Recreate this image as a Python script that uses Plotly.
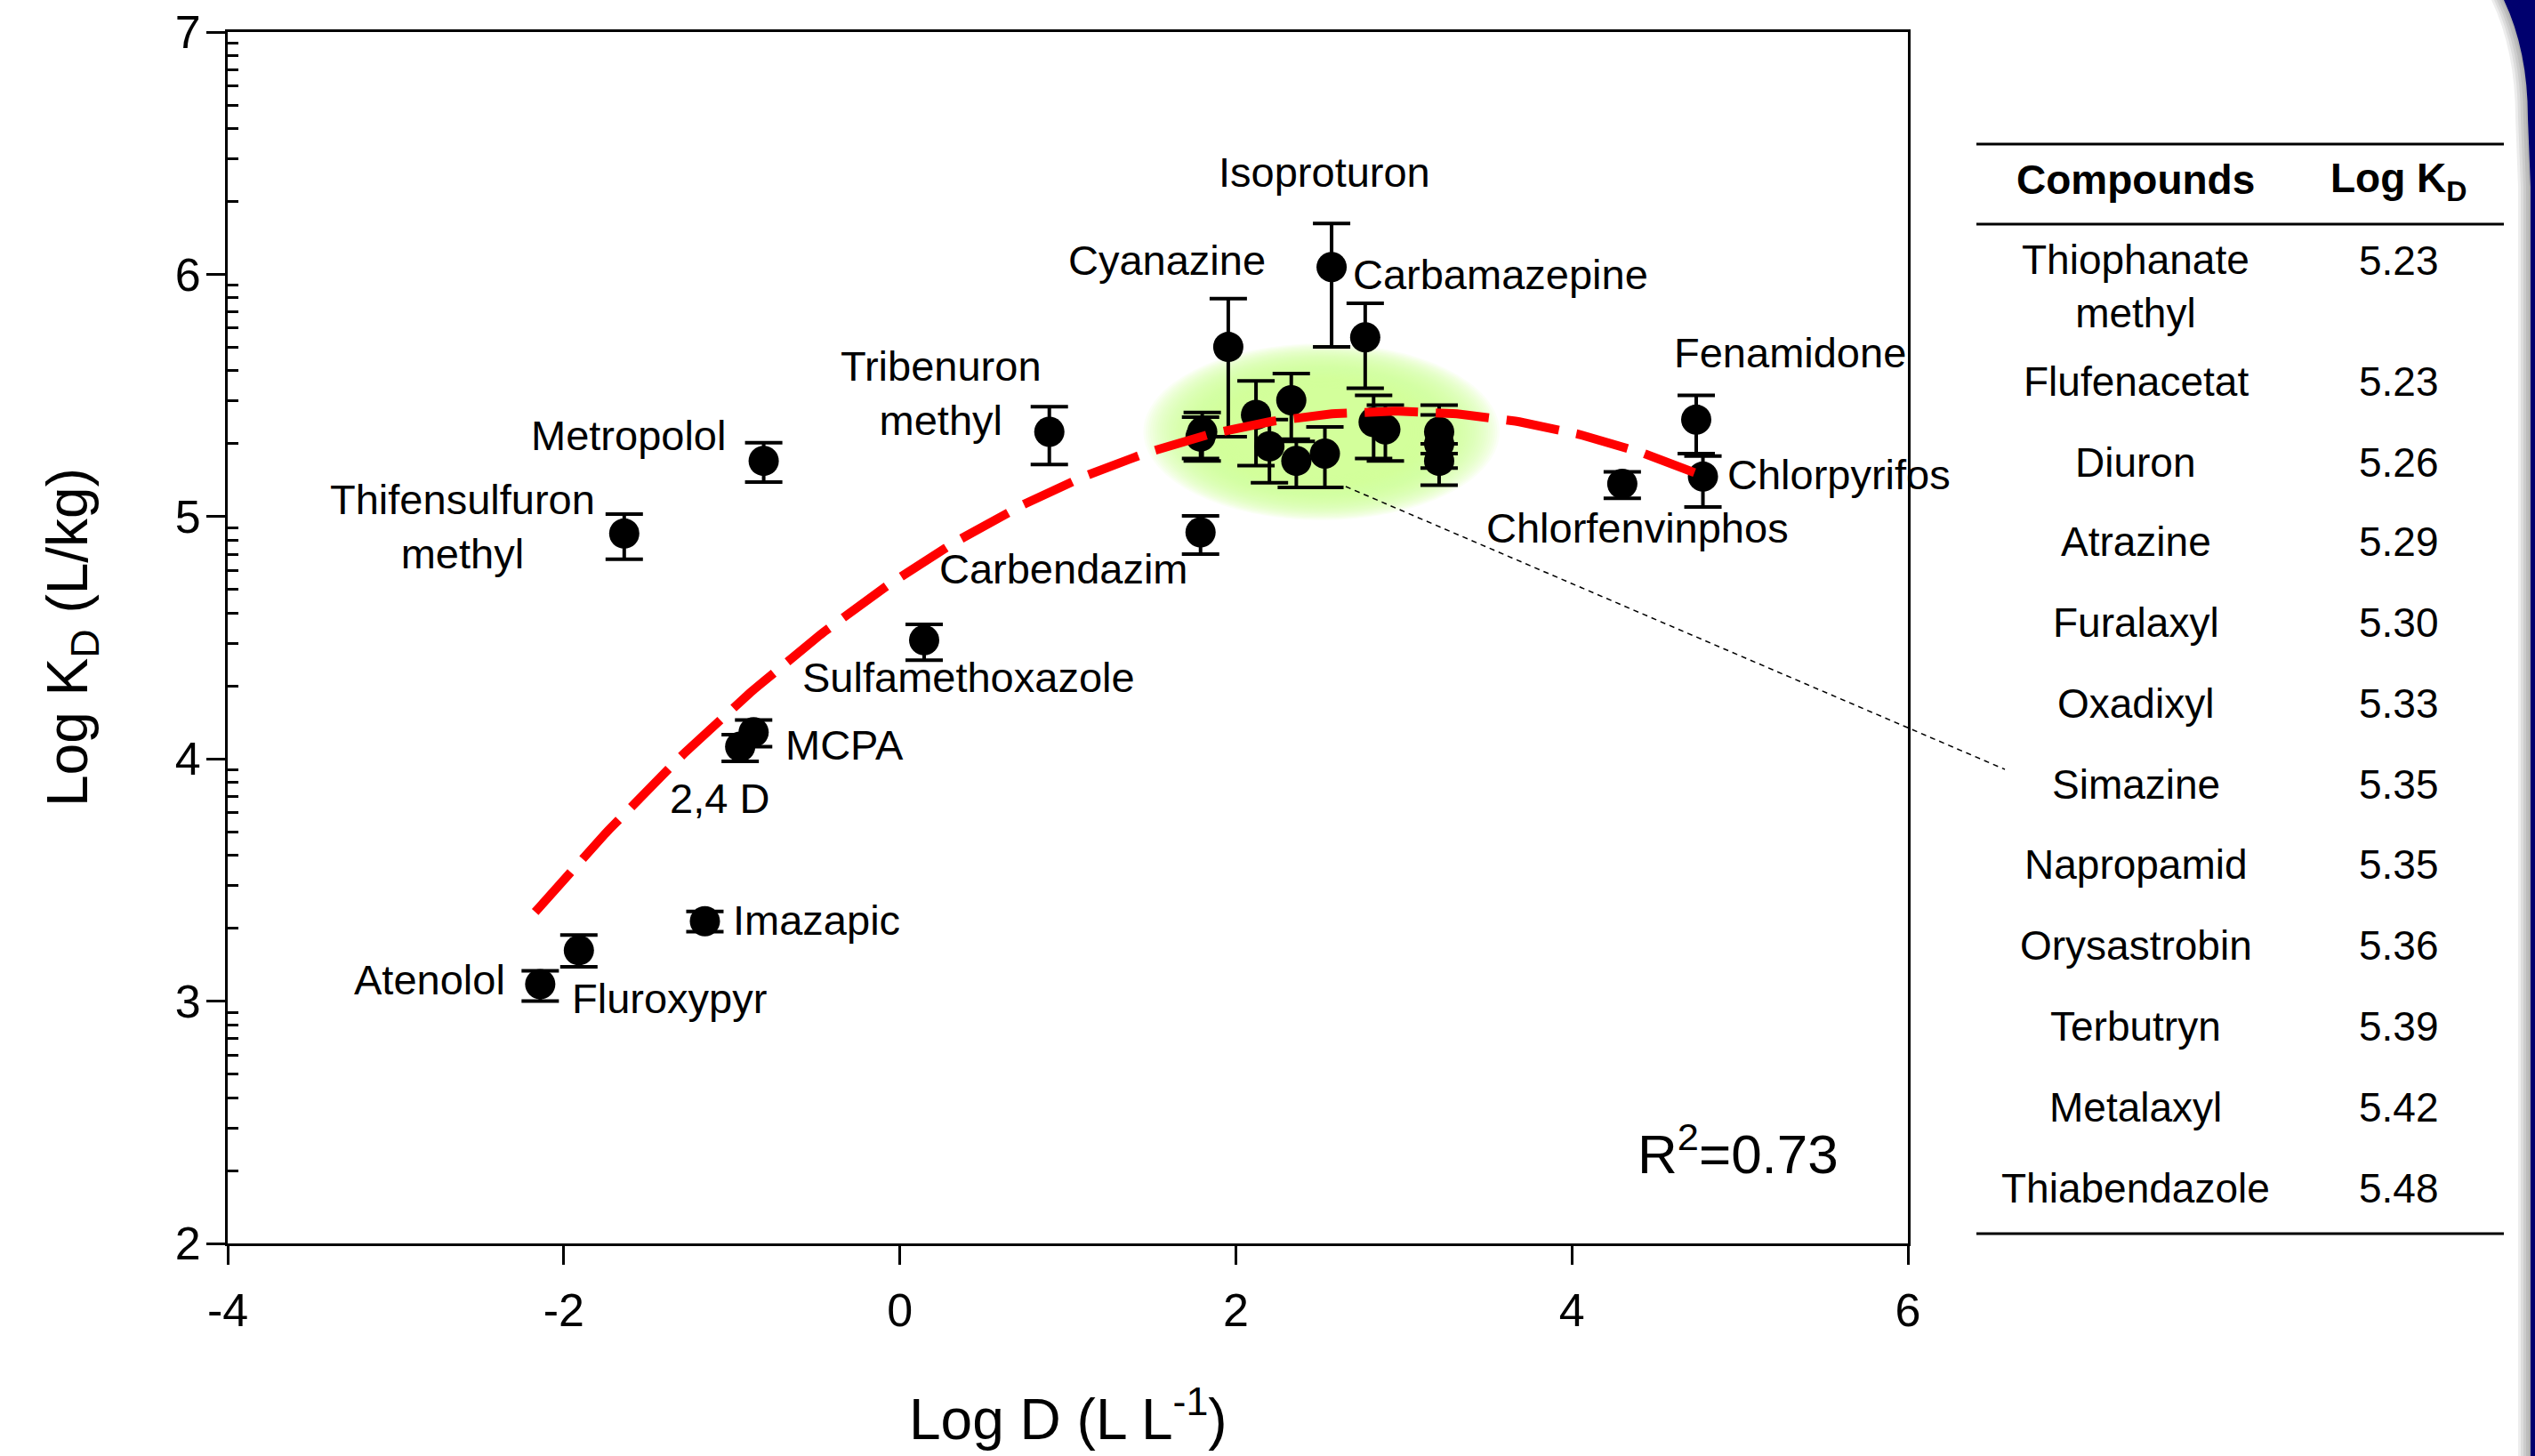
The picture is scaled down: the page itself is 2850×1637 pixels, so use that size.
import math
import numpy as np
import plotly.graph_objects as go

# ---------------- data ----------------
# labelled compounds
lab_names = ["Atenolol", "Fluroxypyr", "Imazapic", "2,4 D", "MCPA",
             "Thifensulfuron methyl", "Metropolol", "Sulfamethoxazole",
             "Tribenuron methyl", "Carbendazim", "Cyanazine", "Isoproturon",
             "Carbamazepine", "Fenamidone", "Chlorfenvinphos", "Chlorpyrifos"]
lab_logD = [-2.14, -1.91, -1.16, -0.95, -0.87, -1.64, -0.81, 0.145,
            0.89, 1.79, 1.955, 2.57, 2.77, 4.74, 4.30, 4.78]
lab_logKd = [3.07, 3.21, 3.33, 4.05, 4.11, 4.93, 5.23, 4.49,
             5.35, 4.935, 5.70, 6.03, 5.74, 5.40, 5.135, 5.165]
lab_err_plus = [0.055, 0.063, 0.04, 0.05, 0.05, 0.08, 0.075, 0.065,
                0.104, 0.068, 0.20, 0.18, 0.14, 0.10, 0.05, 0.085]
lab_err_minus = [0.07, 0.068, 0.043, 0.06, 0.06, 0.106, 0.088, 0.083,
                 0.135, 0.09, 0.37, 0.33, 0.21, 0.14, 0.06, 0.125]

# compounds of the table (clustered points)
tab_names = ["Thiophanate<br>methyl", "Flufenacetat", "Diuron", "Atrazine",
             "Furalaxyl", "Oxadixyl", "Simazine", "Napropamid",
             "Orysastrobin", "Terbutryn", "Metalaxyl", "Thiabendazole"]
tab_logKd = [5.23, 5.23, 5.26, 5.29, 5.30, 5.33, 5.35, 5.35, 5.36, 5.39, 5.42, 5.48]
tab_logKd_text = ["5.23", "5.23", "5.26", "5.29", "5.30", "5.33", "5.35",
                  "5.35", "5.36", "5.39", "5.42", "5.48"]
tab_logD = [3.21, 2.36, 2.53, 2.20, 3.21, 1.79, 1.80, 3.21, 2.89, 2.82, 2.12, 2.33]
tab_err_plus = [0.07, 0.08, 0.11, 0.11, 0.12, 0.08, 0.08, 0.11, 0.10, 0.11, 0.14, 0.11]
tab_err_minus = [0.10, 0.11, 0.14, 0.15, 0.10, 0.09, 0.12, 0.09, 0.13, 0.15, 0.21, 0.16]

# quadratic fit: logKd = a + b*logD + c*logD^2
fit_a, fit_b, fit_c = 4.750, 0.4654, -0.07907
fit_x_start, fit_x_end = -2.17, 4.78
r2_text = "R<sup>2</sup>=0.73"

x_ticks = [-4, -2, 0, 2, 4, 6]
y_ticks = [2, 3, 4, 5, 6, 7]

# ---------------- layout geometry ----------------
W, H = 2850, 1637
ML, MR, MT, MB = 256, 705, 36, 239
PW, PH = W - ML - MR, H - MT - MB
XR = (-4, 6)
YR = (2, 7)
FONT = "Liberation Sans, Arial, sans-serif"


def pxx(xp):
    return (xp - ML) / PW


def pxy(yp):
    return (H - MB - yp) / PH


def dx2p(x):
    return (x - XR[0]) / (XR[1] - XR[0])


def dy2p(y):
    return (y - YR[0]) / (YR[1] - YR[0])


fig = go.Figure()

# green glow behind the cluster (stack of soft ellipses)
glow_cx, glow_cy = 2.51, 5.35
glow_rx, glow_ry = 1.06, 0.365
shapes = []
n_glow = 40
for i in range(n_glow):
    s = 1.0 - 0.5 * i / (n_glow - 1)
    shapes.append(dict(type="circle", xref="x", yref="y", layer="below",
                       x0=glow_cx - glow_rx * s, x1=glow_cx + glow_rx * s,
                       y0=glow_cy - glow_ry * s, y1=glow_cy + glow_ry * s,
                       fillcolor="rgba(206,255,152,0.09)", line=dict(width=0)))

# data points
fig.add_trace(go.Scatter(
    x=lab_logD, y=lab_logKd, mode="markers", text=lab_names,
    marker=dict(color="black", size=34, line=dict(width=0)),
    error_y=dict(type="data", symmetric=False, array=lab_err_plus,
                 arrayminus=lab_err_minus, color="black", thickness=4, width=21),
    showlegend=False))
fig.add_trace(go.Scatter(
    x=tab_logD, y=tab_logKd, mode="markers", text=tab_names,
    marker=dict(color="black", size=34, line=dict(width=0)),
    error_y=dict(type="data", symmetric=False, array=tab_err_plus,
                 arrayminus=tab_err_minus, color="black", thickness=4, width=21),
    showlegend=False))

# fit curve
fx = np.linspace(fit_x_start, fit_x_end, 300)
fy = fit_a + fit_b * fx + fit_c * fx ** 2
fig.add_trace(go.Scatter(x=fx, y=fy, mode="lines",
                         line=dict(color="#ff0000", width=10, dash="60px,20px"),
                         showlegend=False, hoverinfo="skip"))

# dashed leader line from cluster to the table
shapes.append(dict(type="line", xref="paper", yref="paper",
                   x0=dx2p(2.654), y0=dy2p(5.124), x1=pxx(2254), y1=pxy(865),
                   line=dict(color="black", width=1.5, dash="6px,5px")))

# table rules
for yp in (162, 252, 1387):
    shapes.append(dict(type="line", xref="paper", yref="paper",
                       x0=pxx(2222), x1=pxx(2815), y0=pxy(yp), y1=pxy(yp),
                       line=dict(color="black", width=3)))

# navy slide border on the right, with soft shadow
def border_path(off):
    pts = [(2815 - off, 0), (2833 - off, 67), (2842 - off, 133), (2845 - off, 210),
           (2845 - off, H), (2850, H), (2850, 0)]
    p = "M {:.5f},{:.5f}".format(pxx(pts[0][0]), pxy(pts[0][1]))
    p += " Q {:.5f},{:.5f} {:.5f},{:.5f}".format(pxx(pts[2][0]), pxy(pts[1][1] - 10),
                                                  pxx(pts[2][0]), pxy(pts[2][1]))
    for (a, b) in pts[3:]:
        p += " L {:.5f},{:.5f}".format(pxx(a), pxy(b))
    return p + " Z"


for off in (14, 11, 8, 5, 2):
    shapes.append(dict(type="path", xref="paper", yref="paper", path=border_path(off),
                       fillcolor="rgba(0,0,0,0.07)", line=dict(width=0), layer="above"))
shapes.append(dict(type="path", xref="paper", yref="paper", path=border_path(0),
                   fillcolor="#00006e", line=dict(width=0), layer="above"))

# ---------------- annotations ----------------
ann = []
label_pos = {
    "Isoproturon": (2.527, 6.42),
    "Cyanazine": (1.59, 6.057),
    "Carbamazepine": (3.575, 5.998),
    "Tribenuron<br>methyl": (0.246, 5.51),
    "Metropolol": (-1.613, 5.337),
    "Thifensulfuron<br>methyl": (-2.602, 4.958),
    "Fenamidone": (5.296, 5.678),
    "Chlorpyrifos": (5.592, 5.175),
    "Chlorfenvinphos": (4.391, 4.952),
    "Carbendazim": (0.976, 4.783),
    "Sulfamethoxazole": (0.41, 4.335),
    "MCPA": (-0.331, 4.056),
    "2,4 D": (-1.073, 3.836),
    "Imazapic": (-0.495, 3.336),
    "Atenolol": (-2.798, 3.09),
    "Fluroxypyr": (-1.374, 3.01),
}
for txt, (lx, ly) in label_pos.items():
    ann.append(dict(text=txt, x=lx, y=ly, xref="x", yref="y", showarrow=False,
                    xanchor="center", yanchor="middle",
                    font=dict(family=FONT, size=47, color="black")))

ann.append(dict(text=r2_text, x=4.989, y=2.385, xref="x", yref="y", showarrow=False,
                xanchor="center", yanchor="middle",
                font=dict(family=FONT, size=62, color="black")))

# axis titles
ann.append(dict(text="Log D (L L<sup>-1</sup>)", x=0.5, y=pxy(1591), xref="paper",
                yref="paper", showarrow=False, xanchor="center", yanchor="middle",
                font=dict(family=FONT, size=64, color="black")))
ann.append(dict(text="Log K<sub>D</sub> (L/kg)", x=pxx(80), y=0.5, xref="paper",
                yref="paper", showarrow=False, xanchor="center", yanchor="middle",
                textangle=-90, font=dict(family=FONT, size=64, color="black")))

# table text
col1, col2 = pxx(2401), pxx(2697)
ann.append(dict(text="<b>Compounds</b>", x=col1, y=pxy(202), xref="paper", yref="paper",
                showarrow=False, xanchor="center", yanchor="middle",
                font=dict(family=FONT, size=46, color="black")))
ann.append(dict(text="<b>Log K<sub>D</sub></b>", x=col2, y=pxy(204), xref="paper",
                yref="paper", showarrow=False, xanchor="center", yanchor="middle",
                font=dict(family=FONT, size=46, color="black")))
row_y = [293, 429, 520, 609, 700, 791, 882, 972, 1063, 1154, 1245, 1336]
for name, val, yp in zip(tab_names, tab_logKd_text, row_y):
    if "<br>" in name:
        ann.append(dict(text=name, x=col1, y=pxy(yp - 29), xref="paper", yref="paper",
                        showarrow=False, xanchor="center", yanchor="top",
                        font=dict(family=FONT, size=46, color="black")))
    else:
        ann.append(dict(text=name, x=col1, y=pxy(yp), xref="paper", yref="paper",
                        showarrow=False, xanchor="center", yanchor="middle",
                        font=dict(family=FONT, size=46, color="black")))
    ann.append(dict(text=val, x=col2, y=pxy(yp), xref="paper", yref="paper",
                    showarrow=False, xanchor="center", yanchor="middle",
                    font=dict(family=FONT, size=46, color="black")))

minor_y = [k + math.log10(m) for k in range(2, 7) for m in range(2, 10)]

fig.update_layout(
    width=W, height=H, margin=dict(l=ML, r=MR, t=MT, b=MB, pad=0),
    paper_bgcolor="white", plot_bgcolor="white",
    font=dict(family=FONT, size=52, color="black"),
    shapes=shapes, annotations=ann, showlegend=False,
    xaxis=dict(range=list(XR), tickvals=x_ticks, ticktext=[str(v) for v in x_ticks],
               showline=True, linecolor="black", linewidth=3, mirror=True,
               ticks="outside", ticklen=21, tickwidth=3, tickcolor="black",
               showgrid=False, zeroline=False, tickfont=dict(size=52),
               ticklabelstandoff=7, automargin=False),
    yaxis=dict(range=list(YR), tickvals=y_ticks, ticktext=[str(v) for v in y_ticks],
               showline=True, linecolor="black", linewidth=3, mirror=True,
               ticks="outside", ticklen=21, tickwidth=3, tickcolor="black",
               showgrid=False, zeroline=False, tickfont=dict(size=52),
               ticklabelstandoff=-4, automargin=False,
               minor=dict(tickmode="array", tickvals=minor_y, ticks="inside",
                          ticklen=12, tickwidth=3, tickcolor="black", showgrid=False)),
)

fig.write_html("out.html", config={"displayModeBar": False},
               post_script="document.body.style.margin='0';document.body.style.overflow='hidden';")
